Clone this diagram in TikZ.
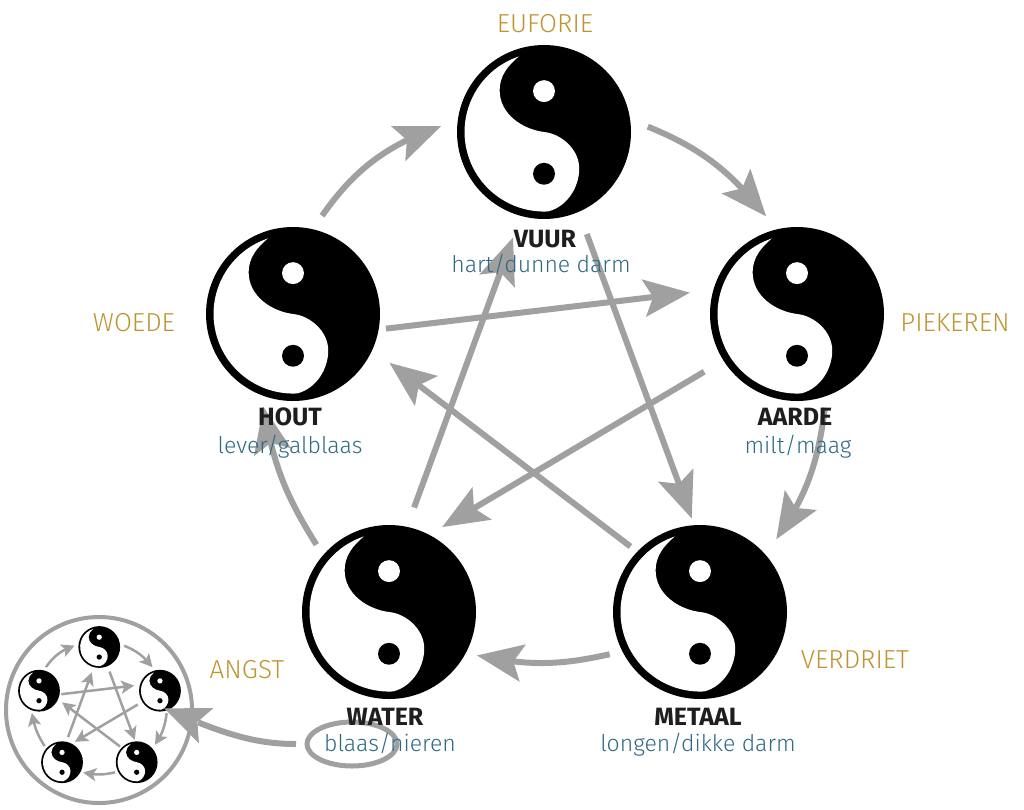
\documentclass[tikz,border=0pt]{standalone}
\usepackage{fontspec}
\setmainfont{Fira Sans Light}
\newfontfamily\boldlbl{Fira Sans}[UprightFont=* Bold]
\usetikzlibrary{arrows.meta,bending,shapes.geometric}
\definecolor{arrowgrey}{HTML}{A0A0A0}
\definecolor{gold}{HTML}{BE9431}
\definecolor{organ}{HTML}{2F6A85}
\definecolor{ink}{HTML}{1E1E1E}
\tikzset{
 yy/.pic={
  \fill[black] (0,0) circle (1);
  \fill[white] (-0.29,-0.868) arc[start angle=-108.6,end angle=-273,radius=0.915]
     .. controls (0.28,0.85) and (0.405,0.62) .. (0.405,0.42)
     .. controls (0.405,0.2) and (0.2,0.02) .. (0,0)
     .. controls (-0.24,-0.03) and (-0.51,-0.2) .. (-0.51,-0.48)
     .. controls (-0.51,-0.64) and (-0.42,-0.76) .. (-0.29,-0.868) -- cycle;
  \fill[white] (0,-0.47) circle (0.126);
  \fill[black] (0,0.48) circle (0.126);
 },
 yyspot/.style={circle,transform shape,minimum size=200pt,inner sep=0pt,outer sep=0pt},
 bigarrow/.style={draw=arrowgrey,line width=6pt,-{Stealth[length=46pt,width=37pt,inset=9pt,flex]}},
 smallarrow/.style={draw=arrowgrey,line width=2.5pt,-{Stealth[length=13pt,width=13pt,inset=3pt,flex]}},
 emo/.style={text=gold,font=\fontsize{26}{28}\selectfont,inner sep=0pt,anchor=base},
 elem/.style={text=ink,font=\boldlbl\fontsize{25}{28}\selectfont,inner sep=0pt,anchor=base},
 org/.style={text=organ,font=\fontsize{23}{26}\selectfont,inner sep=0pt,anchor=base},
 ringline/.style={draw=arrowgrey,line width=4pt},
 ovalline/.style={draw=arrowgrey,line width=5pt},
 pointer/.style={draw=arrowgrey,line width=6pt,-{Stealth[length=45pt,width=37pt,inset=9pt,flex]}},
}
% #1 style, #2 path options, #3 from, #4 angle, #5 shorten start, #6 to, #7 angle, #8 shorten end
\newcommand\cyclearrow[8]{%
 \draw[#1,shorten <=#5*\cyclescale*1pt,shorten >=#8*\cyclescale*1pt]
   (#3.#4) to[#2] (#6.#7);}
% #1 name prefix, #2 scale, #3 arrow style
\newcommand\fivecycle[3]{%
 \def\cyclescale{#2}%
 \node[yyspot] (#1vuur) at (544,132) {};
 \node[yyspot] (#1aarde) at (797,314) {};
 \node[yyspot] (#1hout) at (293,314) {};
 \node[yyspot] (#1water) at (389,612) {};
 \node[yyspot] (#1metaal) at (700,612) {};
 \pic[transform shape,scale=87] at (#1vuur) {yy};
 \pic[transform shape,scale=87] at (#1aarde) {yy};
 \pic[transform shape,scale=87] at (#1hout) {yy};
 \pic[transform shape,scale=87] at (#1water) {yy};
 \pic[transform shape,scale=87] at (#1metaal) {yy};
 \cyclearrow{#3}{bend left=18}{#1hout}{74.7}{2.6}{#1vuur}{176.1}{3.2}
 \cyclearrow{#3}{bend left=15}{#1vuur}{4.4}{4.3}{#1aarde}{107}{2.5}
 \cyclearrow{#3}{bend left=14}{#1aarde}{-74.5}{-2.5}{#1metaal}{43.8}{5.4}
 \cyclearrow{#3}{bend left=12}{#1metaal}{205.5}{-0.3}{#1water}{-26}{-2}
 \cyclearrow{#3}{bend left=11}{#1water}{137.5}{-1}{#1hout}{253.2}{-3}
 \cyclearrow{#3}{}{#1vuur}{-67.1}{10.7}{#1metaal}{96.7}{-6.4}
 \cyclearrow{#3}{}{#1metaal}{137.1}{-4.5}{#1hout}{-26.3}{8.2}
 \cyclearrow{#3}{}{#1hout}{-8}{-6.1}{#1aarde}{167.4}{9.7}
 \cyclearrow{#3}{}{#1aarde}{212.7}{9.3}{#1water}{58}{0.2}
 \cyclearrow{#3}{}{#1water}{77.6}{7.5}{#1vuur}{254.7}{9.9}
}
\begin{document}
\begin{tikzpicture}[x=1pt,y=-1pt]
\useasboundingbox (0,0) rectangle (1024,809);
\begin{scope}
\fivecycle{b}{1}{bigarrow}
\end{scope}
\node[circle,ringline,minimum size=186pt,inner sep=0pt,outer sep=0pt] (ring) at (99,710) {};
\begin{scope}[shift={(-31.32,615.32)},scale=.24]
\fivecycle{s}{.24}{smallarrow}
\end{scope}
\node[ellipse,ovalline,minimum width=90pt,minimum height=44pt,inner sep=0pt,outer sep=0pt] (oval) at (352,744) {};
\draw[pointer,shorten <=11pt,shorten >=-27pt] (oval.west) to[out=180,in=-22] (ring.-6);
% labels
\node[emo] (euforie) at (545,32) {EUFORIE};
\node[emo] (piekeren) at (955,331) {PIEKEREN};
\node[emo] (verdriet) at (855,668) {VERDRIET};
\node[emo] (angst) at (247,678) {ANGST};
\node[emo] (woede) at (134,331) {WOEDE};
\node[elem] (lvuur) at (545,247) {VUUR};
\node[org] (ovuur) at (541,272) {hart/dunne darm};
\node[elem] (laarde) at (795,425) {AARDE};
\node[org] (oaarde) at (798,453) {milt/maag};
\node[elem] (lhout) at (290,425) {HOUT};
\node[org] (ohout) at (290,453) {lever/galblaas};
\node[elem] (lmetaal) at (698,725) {METAAL};
\node[org] (ometaal) at (698,751) {longen/dikke darm};
\node[elem] (lwater) at (385,725) {WATER};
\node[org] (owater) at (390,751) {blaas/nieren};
\end{tikzpicture}
\end{document}
